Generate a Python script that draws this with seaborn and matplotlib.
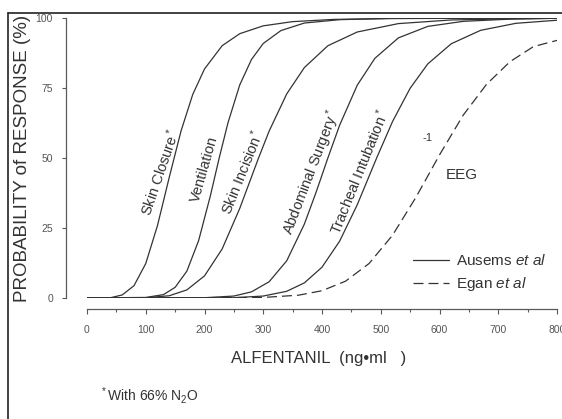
import matplotlib
matplotlib.use("Agg")
import pandas as pd
import seaborn as sns
import matplotlib.pyplot as plt
from matplotlib.ticker import MultipleLocator
from matplotlib.lines import Line2D

# values (alfentanil ng/ml vs probability %)
skin_closure_x = [0, 40, 60, 80, 100, 120, 140, 160, 180, 200, 230, 260, 300, 350, 420, 520, 650, 800]
skin_closure_y = [0, 0.1, 1.1, 4.4, 12.3, 25.9, 43.1, 59.6, 72.7, 81.8, 90.1, 94.4, 97.2, 98.7, 99.5, 99.8, 99.9, 100]

ventilation_x = [0, 100, 130, 150, 170, 190, 210, 225, 240, 260, 280, 300, 330, 370, 430, 520, 800]
ventilation_y = [0, 0.2, 1.2, 3.8, 9.6, 20.5, 36.5, 50, 62.6, 76.1, 85.2, 90.9, 95.5, 98.2, 99.4, 99.9, 100]

skin_incision_x = [0, 100, 140, 170, 200, 230, 260, 292, 310, 340, 370, 410, 460, 530, 620, 720, 800]
skin_incision_y = [0, 0.1, 0.8, 2.9, 7.9, 17.5, 32.0, 50, 59.6, 72.9, 82.3, 90.1, 95.0, 98.0, 99.3, 99.7, 99.9]

abdominal_x = [0, 200, 250, 280, 310, 340, 370, 390, 410, 430, 460, 490, 530, 580, 640, 720, 800]
abdominal_y = [0, 0.1, 0.7, 2.2, 5.8, 13.3, 26.4, 37.8, 50, 61.7, 76.0, 85.6, 92.9, 97.0, 98.8, 99.6, 99.9]

intubation_x = [0, 250, 300, 340, 370, 400, 430, 460, 493, 520, 550, 580, 620, 670, 730, 800]
intubation_y = [0, 0.1, 0.7, 2.4, 5.4, 11.0, 20.3, 33.3, 50, 63.0, 74.9, 83.6, 90.8, 95.6, 98.1, 99.2]

eeg_x = [0, 300, 360, 400, 440, 480, 520, 560, 600, 640, 680, 720, 760, 800]
eeg_y = [0, 0.2, 1.0, 2.6, 6.0, 12.3, 22.4, 36.0, 51.1, 65.2, 76.3, 84.4, 89.8, 92.0]

ausems = "Ausems $\\mathit{et\\ al}$"
egan = "Egan $\\mathit{et\\ al}$"

curves = [
    ("Skin Closure$^*$", ausems, skin_closure_x, skin_closure_y),
    ("Ventilation", ausems, ventilation_x, ventilation_y),
    ("Skin Incision$^*$", ausems, skin_incision_x, skin_incision_y),
    ("Abdominal Surgery$^*$", ausems, abdominal_x, abdominal_y),
    ("Tracheal Intubation$^*$", ausems, intubation_x, intubation_y),
    ("EEG", egan, eeg_x, eeg_y),
]

df = pd.concat([pd.DataFrame({"conc": xs, "prob": ys, "curve": name, "study": study})
                for name, study, xs, ys in curves], ignore_index=True)

sns.set_style("ticks")
plt.rcParams["font.family"] = ["Liberation Sans", "DejaVu Sans"]
plt.rcParams["mathtext.fontset"] = "custom"
plt.rcParams["mathtext.rm"] = "Liberation Sans"
plt.rcParams["mathtext.it"] = "Liberation Sans:italic"

ink = "#333333"
grey = "#5a5a5a"

fig = plt.figure(figsize=(5.62, 4.19), dpi=100)
ax = fig.add_axes([87 / 562, (419 - 298) / 419, 470 / 562, 280 / 419])

sns.lineplot(data=df, x="conc", y="prob", units="curve", estimator=None, style="study",
             dashes={ausems: "", egan: (8, 4)}, color=ink, linewidth=0.9, sort=False, ax=ax)

ax.set_xlim(0, 800)
ax.set_ylim(0, 100)
ax.set_xticks(range(0, 801, 100))
ax.xaxis.set_minor_locator(MultipleLocator(50))
ax.set_yticks([0, 25, 50, 75, 100])
sns.despine(ax=ax, offset={"left": 15, "bottom": 8})
for s in ["left", "bottom"]:
    ax.spines[s].set_color(grey)
    ax.spines[s].set_linewidth(0.9)
ax.tick_params(axis="x", which="major", length=3.5, width=0.8, color=grey,
               labelsize=7.5, labelcolor="#555555", pad=8)
ax.tick_params(axis="x", which="minor", length=2, width=0.8, color=grey)
ax.tick_params(axis="y", length=3, width=0.8, color=grey,
               labelsize=7.5, labelcolor="#555555", pad=6.5)

ax.set_xlabel("ALFENTANIL  (ng\u2022ml   )", fontsize=12, color=ink)
ax.xaxis.set_label_coords((319 - 87) / 470, (298 - 351) / 280)
ax.set_ylabel("PROBABILITY of RESPONSE (%)", fontsize=13.5, color=ink)
ax.yaxis.set_label_coords((31 - 87) / 470, 0.5)

# labels along the curves, just left of each one
label_pos = [(124, 45, 71), (200, 46, 74), (264, 45, 68), (382, 45, 69), (464, 45, 68)]
for (name, _, _, _), (lx, ly, rot) in zip(curves[:5], label_pos):
    ax.text(lx, ly, name, rotation=rot, rotation_mode="anchor", ha="center", va="center",
            fontsize=10.5, color=ink)
ax.text(580, 57, "-1", fontsize=8, color=ink, ha="center", va="center")
ax.text(638, 44, "EEG", fontsize=11, color=ink, ha="center", va="center")

sns.move_legend(ax, "upper left", bbox_to_anchor=(0.694, 0.16), title=None, frameon=False,
                fontsize=11, handlelength=2.35, handletextpad=0.45, labelspacing=0.45,
                borderpad=0, borderaxespad=0, labelcolor=ink)

fig.text(100 / 562, 1 - 395 / 419, "$^*$With 66% N$_2$O", fontsize=10, color=ink,
         ha="left", va="center")

# outer frame of the figure panel
fig.add_artist(Line2D([8 / 562, 8 / 562], [0, 1 - 13 / 419], transform=fig.transFigure,
                      color="#222222", linewidth=1.2))
fig.add_artist(Line2D([8 / 562, 1], [1 - 13 / 419, 1 - 13 / 419], transform=fig.transFigure,
                      color="#222222", linewidth=1.2))

fig.savefig("out.png", dpi=100)
